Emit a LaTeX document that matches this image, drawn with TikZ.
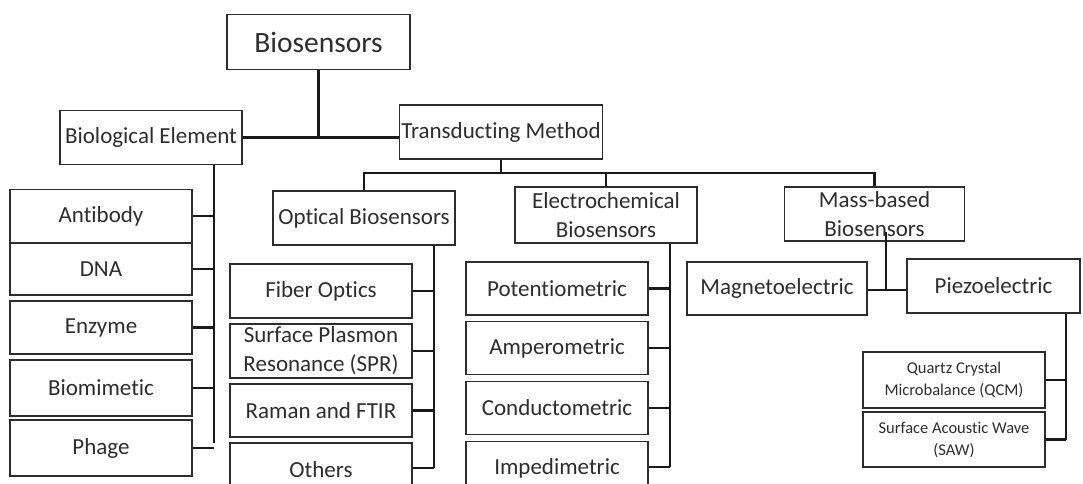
\documentclass[tikz,border=0pt]{standalone}
\usepackage{fontspec}
\setmainfont{Carlito}[Ligatures=NoCommon]
\usepackage{xcolor}
\definecolor{bsgray}{RGB}{45,45,45}
\definecolor{bsline}{RGB}{25,25,25}
\tikzstyle{box} = [rectangle, draw=bsgray, line width=1.6pt, inner sep=0pt, minimum width=181.5pt, minimum height=54pt, align=center, text=bsgray, font=\fontsize{23}{29}\selectfont]
\tikzstyle{smallbox} = [box, font=\fontsize{16.5}{22}\selectfont]
\tikzstyle{link} = [line width=2.2pt, color=bsline]

\begin{document}
\begin{tikzpicture}[x=1pt, y=-1pt]
\useasboundingbox (0,0) rectangle (1083,483);
\clip (0,0) rectangle (1083,483);

% Root and first level
\node (bios) [box, minimum width=183pt, minimum height=55pt, font=\fontsize{29.5}{34}\selectfont] at (318.5,42) {Biosensors};
\node (bioel) [box, minimum width=182pt] at (151,137.5) {Biological Element};
\node (trans) [box, minimum width=203pt] at (501,132) {Transducting Method};

\draw[link] (bios.south) -- (bios.south |- bioel.east);
\draw[link] (bioel.east) -- (trans.west |- bioel.east);

% Biological elements
\node (antibody) [box, minimum height=53pt] at (101,216) {Antibody};
\node (dna) [box, minimum height=52pt] at (101,269) {DNA};
\node (enzyme) [box, minimum height=53pt] at (101,327.5) {Enzyme};
\node (biomim) [box, minimum height=56pt] at (101,388) {Biomimetic};
\node (phage) [box, minimum height=56pt] at (101,448) {Phage};

\coordinate (bspine) at (214,443);
\draw[link] (bioel.south -| bspine) -- (bspine);
\draw[link] (antibody.east) -- (antibody.east -| bspine);
\draw[link] (dna.east) -- (dna.east -| bspine);
\draw[link] (enzyme.east) -- (enzyme.east -| bspine);
\draw[link] (biomim.east) -- (biomim.east -| bspine);
\draw[link] (phage.east) -- (phage.east -| bspine);

% Transducer families
\node (optic) [box] at (364,218) {Optical Biosensors};
\node (electro) [box, minimum height=56pt] at (606,215) {Electrochemical\\Biosensors};
\node (mass) [box, minimum width=180pt] at (874.5,214) {Mass-based\\Biosensors};

\coordinate (tbus) at (0,173);
\draw[link] (trans.south) -- (trans.south |- tbus);
\draw[link] (optic.north) -- (optic.north |- tbus) -- (mass.north |- tbus) -- (mass.north);
\draw[link] (electro.north) -- (electro.north |- tbus);

% Optical
\node (fiber) [box] at (321,291) {Fiber Optics};
\node (spr) [box] at (321,351) {Surface Plasmon\\Resonance (SPR)};
\node (raman) [box, minimum height=53pt] at (321,410.5) {Raman and FTIR};
\node (others) [box] at (321,470) {Others};

\coordinate (ospine) at (434,468);
\draw[link] (optic.south -| ospine) -- (ospine);
\draw[link] (fiber.east) -- (fiber.east -| ospine);
\draw[link] (spr.east) -- (spr.east -| ospine);
\draw[link] (raman.east) -- (raman.east -| ospine);
\draw[link] (ospine -| others.east) -- (ospine);

% Electrochemical
\node (potentio) [box, minimum height=53pt] at (557,288.5) {Potentiometric};
\node (ampero) [box, minimum height=53pt] at (557,348) {Amperometric};
\node (conducto) [box, minimum height=53pt] at (557,408) {Conductometric};
\node (impedi) [box, minimum height=53pt] at (557,468) {Impedimetric};

\coordinate (espine) at (670,467);
\draw[link] (electro.south -| espine) -- (espine);
\draw[link] (potentio.east) -- (potentio.east -| espine);
\draw[link] (ampero.east) -- (ampero.east -| espine);
\draw[link] (conducto.east) -- (conducto.east -| espine);
\draw[link] (espine -| impedi.east) -- (espine);

% Mass-based
\node (magneto) [box, minimum width=179.5pt, minimum height=53pt] at (777,288.5) {Magnetoelectric};
\node (piezo) [box, minimum width=173pt] at (993.5,286) {Piezoelectric};

\coordinate (mjoint) at (886,290);
\draw[link] (886,232) -- (mjoint);
\draw[link] (magneto.east |- mjoint) -- (piezo.west |- mjoint);

\node (qcm) [smallbox, minimum height=55.5pt] at (954,380) {Quartz Crystal\\Microbalance (QCM)};
\node (saw) [smallbox, minimum height=55pt] at (954,439.5) {Surface Acoustic Wave\\(SAW)};

\coordinate (pspine) at (1066,439.5);
\draw[link] (piezo.south -| pspine) -- (pspine);
\draw[link] (qcm.east) -- (qcm.east -| pspine);
\draw[link] (saw.east) -- (pspine);
\end{tikzpicture}
\end{document}
